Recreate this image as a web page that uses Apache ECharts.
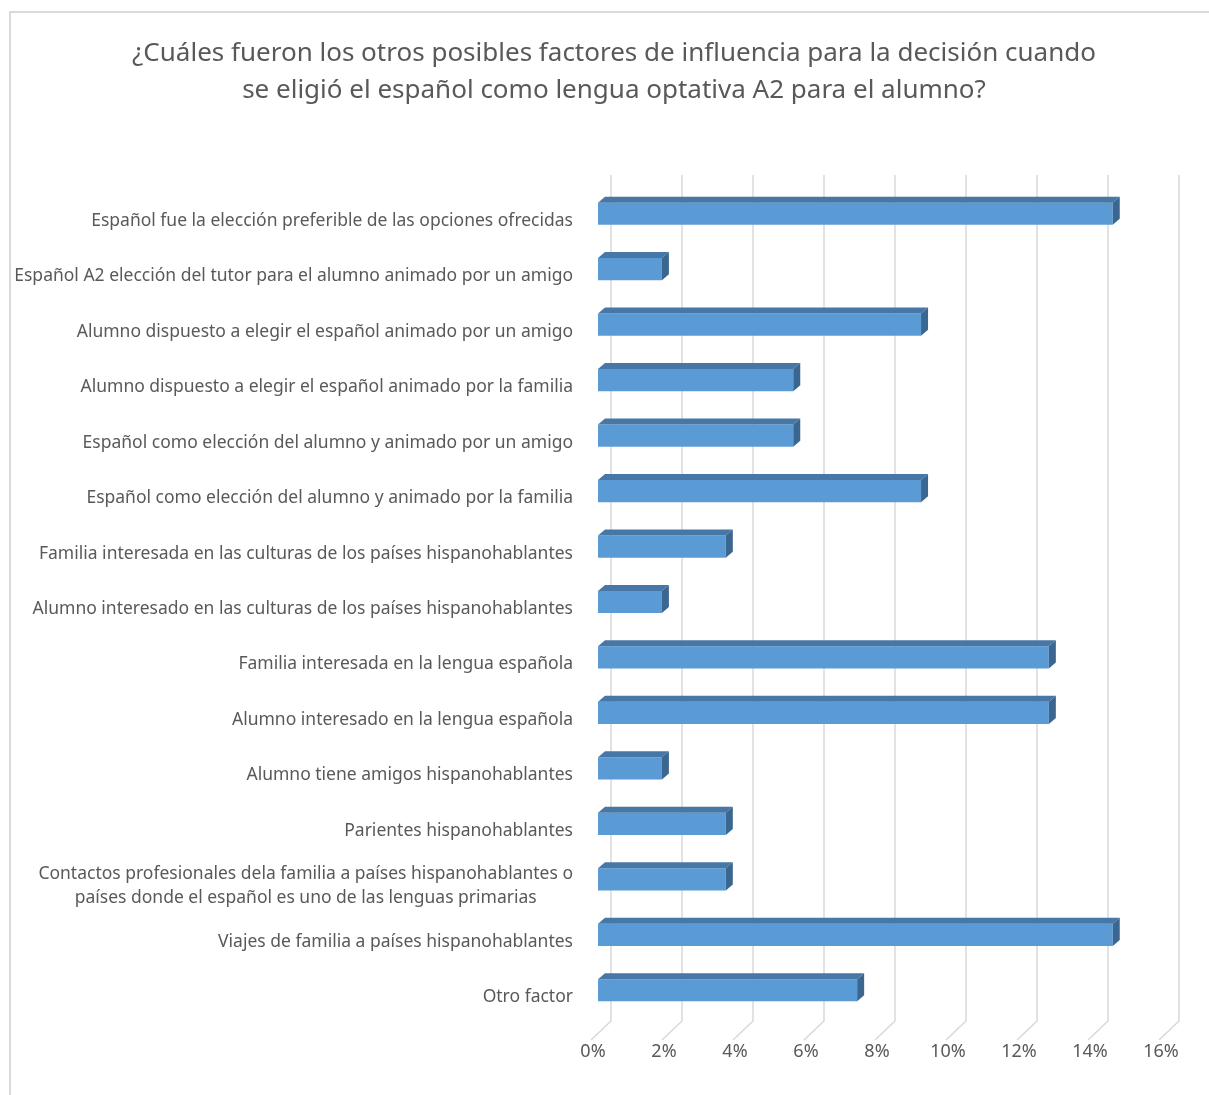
<!DOCTYPE html>
<html>
<head>
<meta charset="utf-8">
<script src="https://cdn.jsdelivr.net/npm/echarts@6/dist/echarts.min.js"></script>
<style>html,body{margin:0;padding:0;background:#fff;}#c{width:1209px;height:1095px;}</style>
</head>
<body>
<div id="c"></div>
<script>
const titleText = "¿Cuáles fueron los otros posibles factores de influencia para la decisión cuando\nse eligió el español como lengua optativa A2 para el alumno?";
const categories = [
  "Español fue la elección preferible de las opciones ofrecidas",
  "Español A2 elección del tutor para el alumno animado por un amigo",
  "Alumno dispuesto a elegir el español animado por un amigo",
  "Alumno dispuesto a elegir el español animado por la familia",
  "Español como elección del alumno y animado por un amigo",
  "Español como elección del alumno y animado por la familia",
  "Familia interesada en las culturas de los países hispanohablantes",
  "Alumno interesado en las culturas de los países hispanohablantes",
  "Familia interesada en la lengua española",
  "Alumno interesado en la lengua española",
  "Alumno tiene amigos hispanohablantes",
  "Parientes hispanohablantes",
  "Contactos profesionales dela familia a países hispanohablantes o\npaíses donde el español es uno de las lenguas primarias",
  "Viajes de familia a países hispanohablantes",
  "Otro factor"
];
const values = [14.5, 1.8, 9.1, 5.5, 5.5, 9.1, 3.6, 1.8, 12.7, 12.7, 1.8, 3.6, 3.6, 14.5, 7.3];
const xTicks = [0, 2, 4, 6, 8, 10, 12, 14, 16];

const chart = echarts.init(document.getElementById('c'));
const textColor = '#595959';
const fontFam = '"Noto Sans", sans-serif';

function renderBar(params, api) {
  const i = api.value(1);
  const v = api.value(0);
  const p0 = api.coord([0, i]);
  const p1 = api.coord([v, i]);
  const h = api.size([0, 1])[1] * 0.4;
  const x0 = p0[0], x1 = p1[0];
  const yT = p0[1] - 7 - h / 2;
  const dx = 7, dy = -6;
  return {
    type: 'group',
    children: [
      { type: 'rect', shape: { x: x0, y: yT, width: x1 - x0, height: h }, style: { fill: '#5b9bd5' } },
      { type: 'polygon', shape: { points: [[x0, yT], [x1, yT], [x1 + dx, yT + dy], [x0 + dx, yT + dy]] }, style: { fill: '#4677a6' } },
      { type: 'polygon', shape: { points: [[x1, yT], [x1 + dx, yT + dy], [x1 + dx, yT + h + dy], [x1, yT + h]] }, style: { fill: '#3a6690' } }
    ]
  };
}

function renderGrid(params, api) {
  const x = api.coord([api.value(0), 0])[0];
  const cs = params.coordSys;
  const top = cs.y, bottom = cs.y + cs.height;
  return {
    type: 'polyline',
    shape: { points: [[x + 13, top - 18], [x + 13, bottom - 4], [x - 7, bottom + 15]] },
    style: { stroke: '#d9d9d9', lineWidth: 1.5, fill: null }
  };
}

chart.setOption({
  backgroundColor: '#ffffff',
  animation: false,
  title: {
    text: titleText,
    left: 609, top: 30, textAlign: 'center',
    textStyle: { color: textColor, fontSize: 26, fontWeight: 'normal', fontFamily: fontFam, lineHeight: 37 }
  },
  graphic: [
    { type: 'polyline', shape: { points: [[10, 1100], [10, 12], [1215, 12]] }, style: { stroke: '#d9d9d9', lineWidth: 2, fill: null }, silent: true }
  ],
  grid: { left: 598, right: 43, top: 193, bottom: 70, containLabel: false },
  xAxis: {
    type: 'value', min: 0, max: 16, interval: 2,
    axisLine: { show: false }, axisTick: { show: false }, splitLine: { show: false },
    axisLabel: { formatter: '{value}%', color: textColor, fontSize: 18, fontFamily: fontFam, margin: 18, padding: [0, 10, 0, 0] }
  },
  yAxis: {
    type: 'category', data: categories, inverse: true,
    axisLine: { show: false }, axisTick: { show: false }, splitLine: { show: false },
    axisLabel: {
      color: textColor, fontSize: 17.5, fontFamily: fontFam, margin: 25, lineHeight: 24,
      formatter: function (val) {
        if (val.indexOf('\n') >= 0) {
          return val.split('\n').map(l => '{c|' + l + '}').join('\n');
        }
        return val;
      },
      rich: { c: { align: 'center', color: textColor, fontSize: 17.5, fontFamily: fontFam, lineHeight: 24 } }
    }
  },
  series: [
    { type: 'custom', renderItem: renderGrid, data: xTicks.map(t => [t, 0]), encode: { x: 0, y: 1 }, clip: false, z: 1, silent: true },
    { type: 'custom', renderItem: renderBar, data: values.map((v, i) => [v, i]), encode: { x: 0, y: 1 }, clip: false, z: 2 }
  ]
});
</script>
</body>
</html>
